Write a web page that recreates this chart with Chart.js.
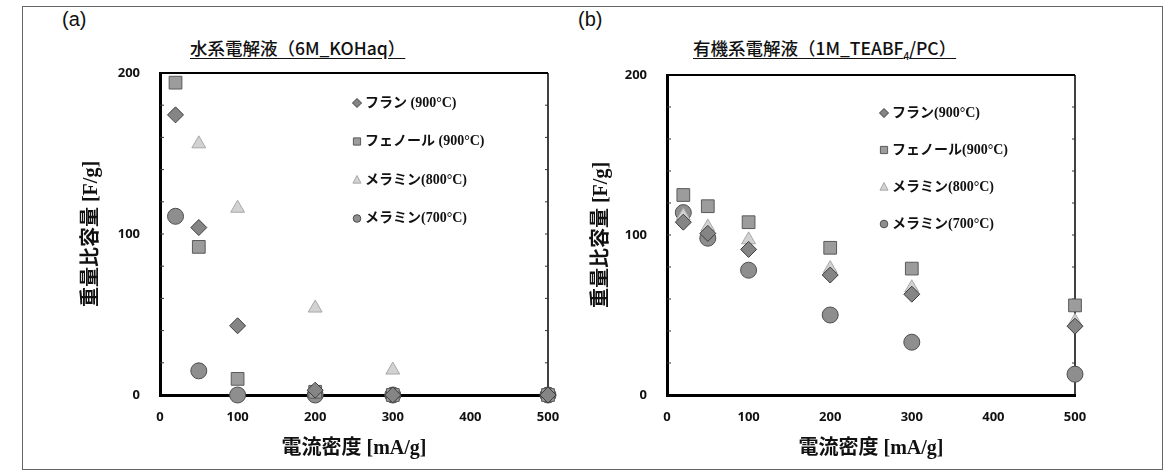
<!DOCTYPE html>
<html>
<head>
<meta charset="utf-8">
<script src="https://cdn.jsdelivr.net/npm/chart.js@4.4.0/dist/chart.umd.min.js"></script>
<style>
  body { margin: 0; background: #fff; }
  #page { position: relative; width: 1171px; height: 475px; overflow: hidden; }
  .frame { position: absolute; left: 22px; top: 6px; width: 1139px; height: 462px; border: 1px solid #666; }
  .box { position: absolute; top: 0; height: 475px; }
  .panel { position: absolute; top: 8px; font: 20px "Liberation Sans", sans-serif; color: #111; }
  .title { position: absolute; top: 35px; font: 500 17.5px "Noto Sans CJK JP", sans-serif; color: #111;
           text-decoration: underline; text-underline-offset: 3px; white-space: nowrap; }
  .title sub { font-size: 10px; }
</style>
</head>
<body>
<div id="page">
  <div class="frame"></div>
  <div class="panel" style="left:62px">(a)</div>
  <div class="panel" style="left:578px">(b)</div>
  <div class="title" style="left:190px">水系電解液（6M_KOHaq）</div>
  <div class="title" style="left:693px">有機系電解液（1M_TEABF<sub>4</sub>/PC）</div>
  <div class="box" style="left:0;width:580px"><canvas id="chartA"></canvas></div>
  <div class="box" style="left:580px;width:591px"><canvas id="chartB"></canvas></div>
</div>
<script>
// current density [mA/g]
const currentDensity = [20, 50, 100, 200, 300, 500];
const xTickValues = [0, 100, 200, 300, 400, 500];
const yTickLabels = [0, 100, 200];

const seriesNames = ['フラン (900°C)', 'フェノール (900°C)', 'メラミン(800°C)', 'メラミン(700°C)'];
const seriesNamesB = ['フラン(900°C)', 'フェノール(900°C)', 'メラミン(800°C)', 'メラミン(700°C)'];

// (a) aqueous 6M KOH  [F/g]
const aqFuran  = [174, 104, 43, 3, 0, 0];
const aqPhenol = [194, 92, 10, 2, 0, 0];
const aqMel800 = [null, 156, 116, 54, 15.5, 0];
const aqMel700 = [111, 15, 0, 0, 0, 0];

// (b) organic 1M TEABF4/PC  [F/g]
const orgFuran  = [108, 101, 91, 75, 63, 43];
const orgPhenol = [125, 118, 108, 92, 79, 56];
const orgMel800 = [112, 105, 97, 79, 67, 46];
const orgMel700 = [114, 98, 78, 50, 33, 13];

const styles = [
  { pointStyle: 'rectRot', pointRadius: 8, backgroundColor: '#858585', borderColor: '#3d3d3d' },
  { pointStyle: 'rect', pointRadius: 9, backgroundColor: '#9c9c9c', borderColor: '#5a5a5a' },
  { pointStyle: 'triangle', pointRadius: 8, backgroundColor: '#d2d2d2', borderColor: '#a8a8a8' },
  { pointStyle: 'circle', pointRadius: 8, backgroundColor: '#8e8e8e', borderColor: '#4e4e4e' }
];

function toPoints(values) {
  return currentDensity.map((x, i) => ({ x: x, y: values[i] })).filter(p => p.y !== null);
}

function makeDatasets(names, seriesList) {
  return seriesList.map((vals, i) => Object.assign({
    label: names[i],
    data: toPoints(vals),
    borderWidth: 1,
    clip: false
  }, styles[i]));
}

function drawMarker(ctx, style, x, y, r) {
  ctx.save();
  ctx.fillStyle = style.backgroundColor;
  ctx.strokeStyle = style.borderColor;
  ctx.lineWidth = 1;
  ctx.beginPath();
  if (style.pointStyle === 'rectRot') {
    ctx.moveTo(x, y - r); ctx.lineTo(x + r, y); ctx.lineTo(x, y + r); ctx.lineTo(x - r, y);
  } else if (style.pointStyle === 'rect') {
    ctx.rect(x - r * 0.8, y - r * 0.8, r * 1.6, r * 1.6);
  } else if (style.pointStyle === 'triangle') {
    ctx.moveTo(x, y - r); ctx.lineTo(x + r * 0.9, y + r * 0.7); ctx.lineTo(x - r * 0.9, y + r * 0.7);
  } else {
    ctx.arc(x, y, r * 0.85, 0, Math.PI * 2);
  }
  ctx.closePath();
  ctx.fill();
  ctx.stroke();
  ctx.restore();
}

// legend drawn inside the plot, plus the thin top/right frame and inner minor ticks
const framePlugin = {
  id: 'frameLegend',
  beforeDatasetsDraw(chart, args, opts) {
    const a = chart.chartArea;
    const ctx = chart.ctx;
    const y = chart.scales.y;
    ctx.save();
    ctx.strokeStyle = '#000';
    ctx.lineWidth = 2;
    ctx.beginPath();
    ctx.moveTo(a.left, a.top); ctx.lineTo(a.right, a.top);
    ctx.stroke();
    ctx.lineWidth = 1.5;
    ctx.beginPath();
    ctx.moveTo(a.right, a.top); ctx.lineTo(a.right, a.bottom);
    ctx.stroke();
    ctx.lineWidth = 1;
    ctx.strokeStyle = '#333';
    for (let v = 20; v < 200; v += 20) {
      const py = y.getPixelForValue(v);
      ctx.beginPath();
      ctx.moveTo(a.left, py); ctx.lineTo(a.left + 4, py);
      ctx.moveTo(a.right, py); ctx.lineTo(a.right - 3, py);
      ctx.stroke();
    }
    ctx.restore();
  },
  afterDraw(chart, args, opts) {
    const ctx = chart.ctx;
    ctx.save();
    ctx.font = 'bold 14px "Liberation Serif", "Noto Sans CJK JP", serif';
    ctx.fillStyle = '#111';
    ctx.textBaseline = 'middle';
    chart.data.datasets.forEach((ds, i) => {
      const yy = opts.y + i * opts.row;
      drawMarker(ctx, styles[i], opts.x, yy, 4.5);
      ctx.fillText(ds.label, opts.x + 8, yy);
    });
    ctx.restore();
  }
};

const tickFont = { family: '"Open Sans", sans-serif', size: 13, weight: 'bold' };
const titleFont = { family: '"Liberation Serif", "Noto Sans CJK JP", serif', size: 20, weight: 'bold' };

function makeChart(id, datasets, pad, yWidth, legendPos) {
  return new Chart(document.getElementById(id), {
    type: 'scatter',
    data: { datasets: datasets },
    options: {
      responsive: true,
      maintainAspectRatio: false,
      animation: false,
      layout: { padding: pad },
      plugins: {
        legend: { display: false },
        tooltip: { enabled: false },
        frameLegend: legendPos
      },
      scales: {
        x: {
          type: 'linear', min: 0, max: 500,
          afterBuildTicks: s => { s.ticks = xTickValues.map(v => ({ value: v })); },
          afterFit: s => { s.height = 80; },
          grid: { display: false, drawTicks: false },
          border: { display: true, color: '#000', width: 3 },
          ticks: { color: '#111', font: tickFont, padding: 14, maxRotation: 0 },
          title: { display: true, text: '電流密度 [mA/g]', color: '#111', font: titleFont, padding: { top: 0, bottom: 14 } }
        },
        y: {
          type: 'linear', min: 0, max: 200,
          afterBuildTicks: s => { s.ticks = yTickLabels.map(v => ({ value: v })); },
          afterFit: s => { s.width = yWidth; },
          grid: { display: false, drawTicks: false },
          border: { display: true, color: '#000', width: 3 },
          ticks: { color: '#111', font: tickFont, padding: 20 },
          title: { display: true, text: '重量比容量 [F/g]', color: '#111', font: titleFont, padding: { top: 4, bottom: 0 } }
        }
      }
    },
    plugins: [framePlugin]
  });
}

makeChart('chartA',
  makeDatasets(seriesNames, [aqFuran, aqPhenol, aqMel800, aqMel700]),
  { left: 76, right: 32, top: 73, bottom: 0 }, 84,
  { x: 357, y: 103, row: 38.5 });

makeChart('chartB',
  makeDatasets(seriesNamesB, [orgFuran, orgPhenol, orgMel800, orgMel700]),
  { left: 6, right: 96, top: 75, bottom: 0 }, 81,
  { x: 304, y: 113, row: 37 });
</script>
</body>
</html>
